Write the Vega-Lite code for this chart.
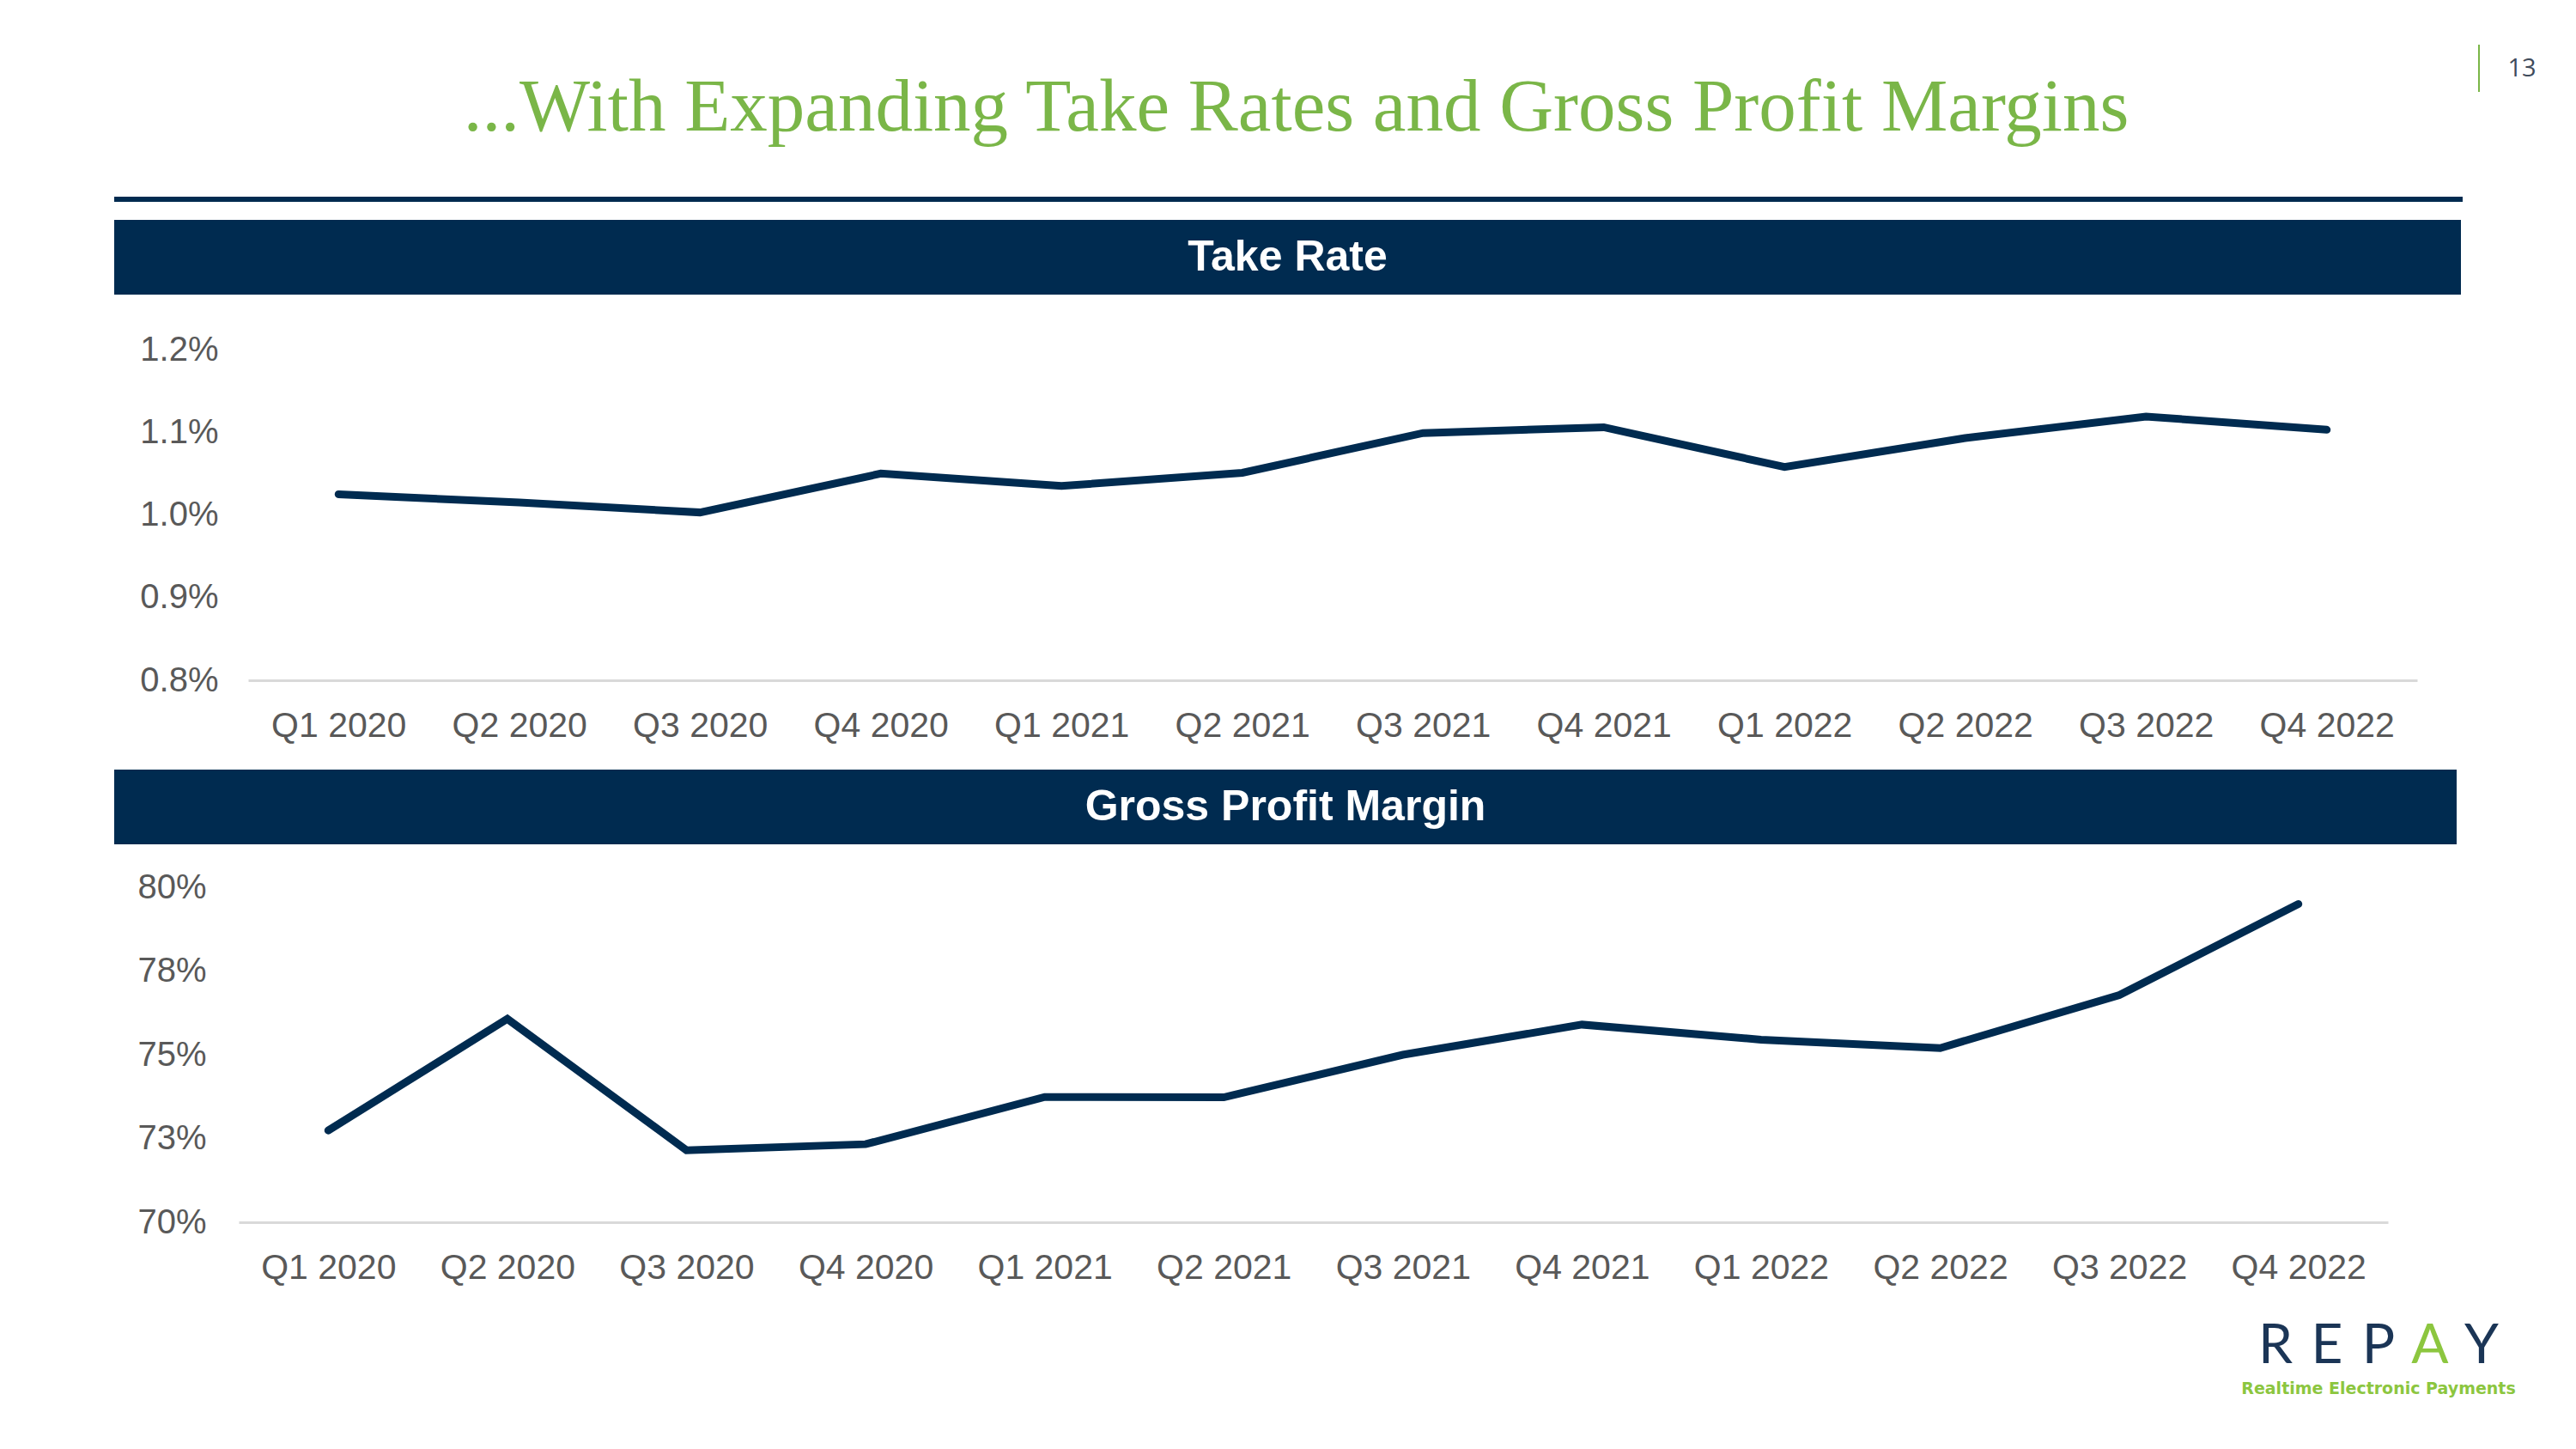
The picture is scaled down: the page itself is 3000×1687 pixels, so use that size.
{
  "$schema": "https://vega.github.io/schema/vega-lite/v6.json",
  "background": "white",
  "padding": {"left": 133, "top": 0, "right": 0, "bottom": 0},
  "spacing": 0,
  "config": {
    "view": {"stroke": null},
    "font": "Liberation Sans",
    "axis": {"labelFont": "Liberation Sans", "labelColor": "#595959"}
  },
  "datasets": {
    "takeRate": [
      {"quarter": "Q1 2020", "rate": 1.025},
      {"quarter": "Q2 2020", "rate": 1.015},
      {"quarter": "Q3 2020", "rate": 1.003},
      {"quarter": "Q4 2020", "rate": 1.050},
      {"quarter": "Q1 2021", "rate": 1.035},
      {"quarter": "Q2 2021", "rate": 1.051},
      {"quarter": "Q3 2021", "rate": 1.099},
      {"quarter": "Q4 2021", "rate": 1.106},
      {"quarter": "Q1 2022", "rate": 1.058},
      {"quarter": "Q2 2022", "rate": 1.093},
      {"quarter": "Q3 2022", "rate": 1.119},
      {"quarter": "Q4 2022", "rate": 1.103}
    ],
    "grossMargin": [
      {"quarter": "Q1 2020", "margin": 72.74},
      {"quarter": "Q2 2020", "margin": 76.07},
      {"quarter": "Q3 2020", "margin": 72.15},
      {"quarter": "Q4 2020", "margin": 72.33},
      {"quarter": "Q1 2021", "margin": 73.74},
      {"quarter": "Q2 2021", "margin": 73.73},
      {"quarter": "Q3 2021", "margin": 75.0},
      {"quarter": "Q4 2021", "margin": 75.9},
      {"quarter": "Q1 2022", "margin": 75.45},
      {"quarter": "Q2 2022", "margin": 75.2},
      {"quarter": "Q3 2022", "margin": 76.78},
      {"quarter": "Q4 2022", "margin": 79.5}
    ],
    "logo": [
      {"ch": "R", "tone": "main"},
      {"ch": "E", "tone": "main"},
      {"ch": "P", "tone": "main"},
      {"ch": "A", "tone": "accent"},
      {"ch": "Y", "tone": "main"}
    ],
    "blank": []
  },
  "vconcat": [
    {
      "hconcat": [
        {
          "vconcat": [
            {"width": 2753, "height": 23, "data": {"name": "blank"}, "mark": "text", "encoding": {"text": {"value": ""}}},
            {
              "width": 2753, "height": 206,
              "data": {"values": [{"t": "...With Expanding Take Rates and Gross Profit Margins"}]},
              "mark": {"type": "text", "font": "Liberation Serif", "fontSize": 87, "color": "#7AB648", "align": "center", "baseline": "middle"},
              "encoding": {"text": {"field": "t"}}
            }
          ],
          "spacing": 0
        },
        {
          "vconcat": [
            {"width": 100, "height": 52, "data": {"name": "blank"}, "mark": "text", "encoding": {"text": {"value": ""}}},
            {
              "hconcat": [
                {"width": 2, "height": 55, "view": {"fill": "#7AB648"}, "data": {"name": "blank"}, "mark": "text", "encoding": {"text": {"value": ""}}},
                {
                  "width": 98, "height": 55,
                  "data": {"values": [{"page": "13"}]},
                  "mark": {"type": "text", "font": "Open Sans", "fontSize": 29, "color": "#3F4B5B", "align": "center", "baseline": "middle"},
                  "encoding": {"text": {"field": "page"}}
                }
              ],
              "spacing": 0
            }
          ],
          "spacing": 0
        }
      ],
      "spacing": 0
    },
    {"width": 2735, "height": 6, "view": {"fill": "#002B50"}, "data": {"name": "blank"}, "mark": "text", "encoding": {"text": {"value": ""}}},
    {"width": 1, "height": 21, "data": {"name": "blank"}, "mark": "text", "encoding": {"text": {"value": ""}}},
    {
      "width": 2733, "height": 87, "view": {"fill": "#002B50"},
      "data": {"values": [{"label": "Take Rate"}]},
      "mark": {"type": "text", "font": "Liberation Sans", "fontWeight": "bold", "fontSize": 50, "color": "white", "align": "center", "baseline": "middle"},
      "encoding": {"text": {"field": "label"}}
    },
    {"width": 1, "height": 44, "data": {"name": "blank"}, "mark": "text", "encoding": {"text": {"value": ""}}},
    {
      "hconcat": [
        {"width": 156, "height": 1, "data": {"name": "blank"}, "mark": "text", "encoding": {"text": {"value": ""}}},
        {
          "width": 2526, "height": 385,
          "data": {"name": "takeRate"},
          "mark": {"type": "line", "color": "#002B50", "strokeWidth": 9, "strokeCap": "round"},
          "encoding": {
            "x": {
              "field": "quarter", "type": "ordinal", "sort": null, "title": null,
              "axis": {"labelAngle": 0, "labelFontSize": 41, "labelPadding": 33, "ticks": false, "grid": false, "domainColor": "#D9D9D9", "domainWidth": 3}
            },
            "y": {
              "field": "rate", "type": "quantitative", "title": null,
              "scale": {"domain": [0.8, 1.2], "nice": false, "zero": false},
              "axis": {"values": [0.8, 0.9, 1.0, 1.1, 1.2], "labelExpr": "format(datum.value, '.1f') + '%'", "labelFontSize": 40, "labelPadding": 35, "ticks": false, "domain": false, "grid": false}
            }
          }
        }
      ],
      "spacing": 0,
      "bounds": "flush"
    },
    {"width": 1, "height": 31, "data": {"name": "blank"}, "mark": "text", "encoding": {"text": {"value": ""}}},
    {
      "width": 2728, "height": 87, "view": {"fill": "#002B50"},
      "data": {"values": [{"label": "Gross Profit Margin"}]},
      "mark": {"type": "text", "font": "Liberation Sans", "fontWeight": "bold", "fontSize": 50, "color": "white", "align": "center", "baseline": "middle"},
      "encoding": {"text": {"field": "label"}}
    },
    {"width": 1, "height": 30, "data": {"name": "blank"}, "mark": "text", "encoding": {"text": {"value": ""}}},
    {
      "hconcat": [
        {"width": 145, "height": 1, "data": {"name": "blank"}, "mark": "text", "encoding": {"text": {"value": ""}}},
        {
          "width": 2503, "height": 390,
          "data": {"name": "grossMargin"},
          "mark": {"type": "line", "color": "#002B50", "strokeWidth": 9, "strokeCap": "round"},
          "encoding": {
            "x": {
              "field": "quarter", "type": "ordinal", "sort": null, "title": null,
              "axis": {"labelAngle": 0, "labelFontSize": 41, "labelPadding": 33, "ticks": false, "grid": false, "domainColor": "#D9D9D9", "domainWidth": 3}
            },
            "y": {
              "field": "margin", "type": "quantitative", "title": null,
              "scale": {"domain": [70, 80], "nice": false, "zero": false},
              "axis": {"values": [70, 72.5, 75, 77.5, 80], "labelExpr": "round(datum.value) + '%'", "labelFontSize": 40, "labelPadding": 38, "ticks": false, "domain": false, "grid": false}
            }
          }
        }
      ],
      "spacing": 0,
      "bounds": "flush"
    },
    {"width": 1, "height": 40, "data": {"name": "blank"}, "mark": "text", "encoding": {"text": {"value": ""}}},
    {
      "hconcat": [
        {"width": 2487, "height": 1, "data": {"name": "blank"}, "mark": "text", "encoding": {"text": {"value": ""}}},
        {
          "vconcat": [
            {
              "width": 300, "height": 54,
              "data": {"name": "logo"},
              "mark": {"type": "text", "font": "Lato", "fontWeight": "normal", "fontSize": 64, "align": "center", "baseline": "middle"},
              "encoding": {
                "x": {"field": "ch", "type": "nominal", "sort": null, "scale": {"type": "point", "padding": 0.5}, "axis": null},
                "text": {"field": "ch"},
                "color": {"field": "tone", "type": "nominal", "scale": {"domain": ["main", "accent"], "range": ["#1B3556", "#8CC63F"]}, "legend": null}
              }
            },
            {
              "width": 300, "height": 34,
              "data": {"values": [{"tag": "Realtime Electronic Payments"}]},
              "mark": {"type": "text", "font": "DejaVu Sans", "fontWeight": "bold", "fontSize": 19, "color": "#8CC63F", "align": "center", "baseline": "middle"},
              "encoding": {"text": {"field": "tag"}}
            }
          ],
          "spacing": 0
        }
      ],
      "spacing": 0,
      "bounds": "flush"
    }
  ]
}
